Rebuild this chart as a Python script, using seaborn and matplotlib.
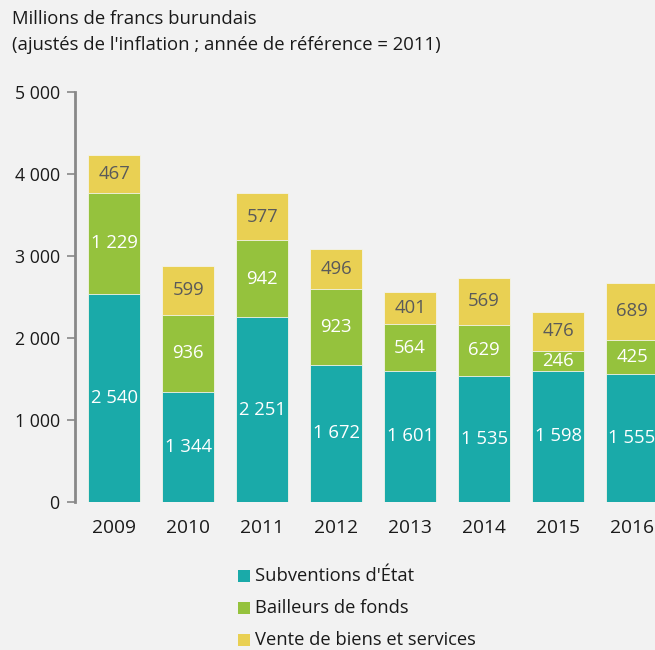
import matplotlib
matplotlib.use("Agg")
import matplotlib.pyplot as plt
import seaborn as sns
import pandas as pd
import numpy as np

years = ["2009", "2010", "2011", "2012", "2013", "2014", "2015", "2016"]
subventions = [2540, 1344, 2251, 1672, 1601, 1535, 1598, 1555]
bailleurs = [1229, 936, 942, 923, 564, 629, 246, 425]
ventes = [467, 599, 577, 496, 401, 569, 476, 689]
series_names = ["Subventions d'État", "Bailleurs de fonds", "Vente de biens et services"]
colors = ["#1aaaa9", "#95c23d", "#e9d053"]
yticks = [0, 1000, 2000, 3000, 4000, 5000]
ytick_labels = ["0", "1 000", "2 000", "3 000", "4 000", "5 000"]

sns.set_theme(style="white")
plt.rcParams["font.family"] = ["Open Sans", "DejaVu Sans"]
BG = "#f2f2f2"

fig = plt.figure(figsize=(6.55, 6.5), dpi=100, facecolor=BG)
ax = fig.add_axes([75 / 655, 1 - 502 / 650, 1 - 75 / 655, 410 / 650])
ax.set_facecolor(BG)

s = np.array(subventions)
b = np.array(bailleurs)
v = np.array(ventes)
layers = [s, s + b, s + b + v]
df = pd.DataFrame({"year": years, "l0": layers[0], "l1": layers[1], "l2": layers[2]})

for i in [2, 1, 0]:
    sns.barplot(data=df, x="year", y=f"l{i}", color=colors[i], width=0.71,
                edgecolor="#f4f4ea", linewidth=0.6, saturation=1, ax=ax)

fs = 13.3
for j in range(len(years)):
    ax.text(j, s[j] / 2, f"{s[j]:,}".replace(",", " "), ha="center", va="center",
            color="white", fontsize=fs)
    ax.text(j, s[j] + b[j] / 2, f"{b[j]:,}".replace(",", " "), ha="center", va="center",
            color="white", fontsize=fs)
    ax.text(j, s[j] + b[j] + v[j] / 2, f"{v[j]:,}".replace(",", " "), ha="center", va="center",
            color="#5a5a5a", fontsize=fs)

ax.set_xlim(-0.53, 7.31)
ax.set_ylim(0, 5000)
ax.set_yticks(yticks)
ax.set_yticklabels(ytick_labels, fontsize=12.8, color="#1a1a1a")
ax.tick_params(axis="y", left=True, length=6, width=1.2, color="#888888", pad=5)
ax.tick_params(axis="x", bottom=False, labelsize=13.8, labelcolor="#1a1a1a", pad=6)
ax.set_xlabel("")
ax.set_ylabel("")
for side in ["top", "right", "bottom"]:
    ax.spines[side].set_visible(False)
ax.spines["left"].set_color("#888888")
ax.spines["left"].set_linewidth(2)

fig.text(12 / 655, 1 - 19 / 650, "Millions de francs burundais", fontsize=13.3,
         color="#1a1a1a", va="center", ha="left")
fig.text(12 / 655, 1 - 45 / 650, "(ajustés de l'inflation ; année de référence = 2011)",
         fontsize=13.3, color="#1a1a1a", va="center", ha="left")

from matplotlib.patches import Rectangle
for k, name in enumerate(series_names):
    yc = 1 - (576 + 32 * k) / 650
    fig.patches.append(Rectangle((238 / 655, yc - 6 / 650), 12 / 655, 12 / 650,
                                 transform=fig.transFigure, facecolor=colors[k],
                                 edgecolor="none"))
    fig.text(255 / 655, yc, name, fontsize=13.2, color="#1a1a1a", va="center", ha="left")

fig.savefig("out.png", dpi=100, facecolor=BG)
